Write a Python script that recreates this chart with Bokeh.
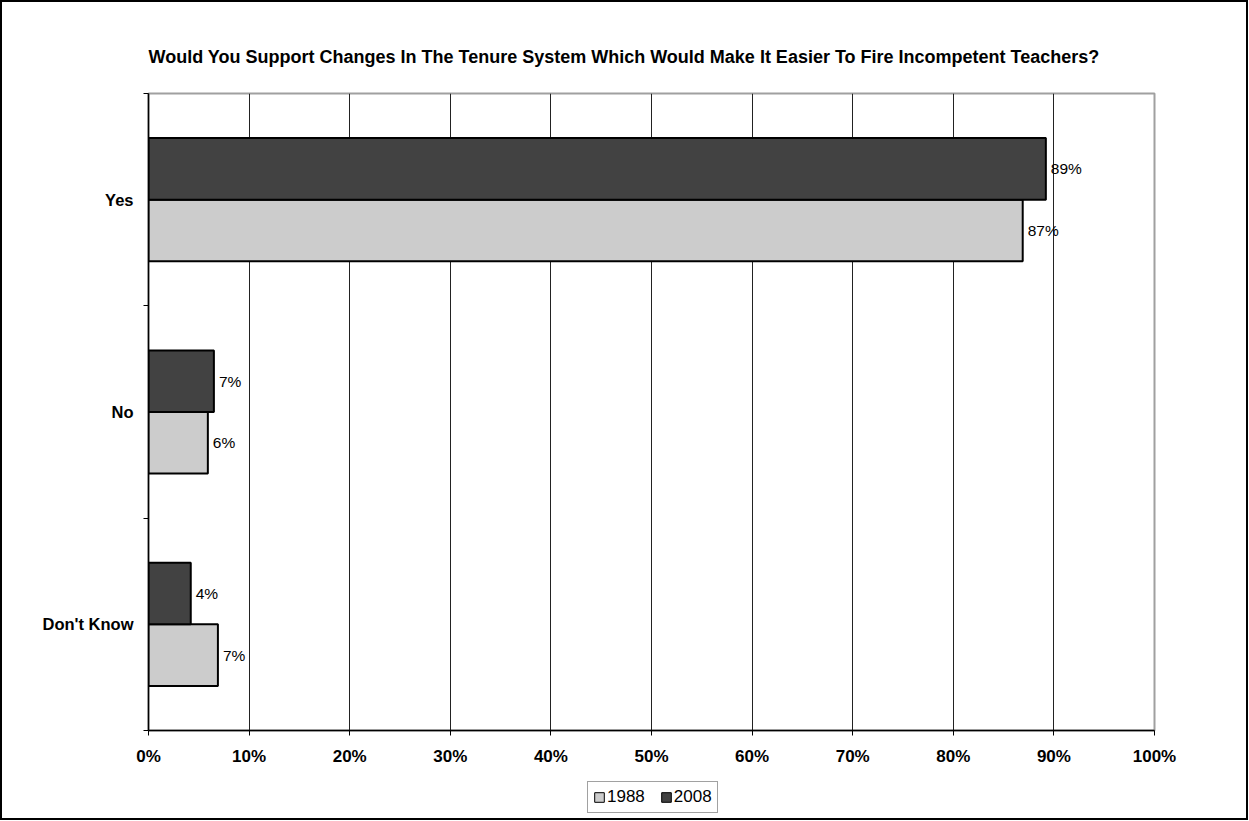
from bokeh.plotting import figure
from bokeh.layouts import column
from bokeh.models import (ColumnDataSource, Range1d, FixedTicker, PrintfTickFormatter,
                          Legend, LegendItem)
from bokeh.core.properties import value
from bokeh.embed import file_html
from bokeh.resources import INLINE

# ---- data ----
title_text = "Would You Support Changes In The Tenure System Which Would Make It Easier To Fire Incompetent Teachers?"
categories = ["Yes", "No", "Don't Know"]
years = ["1988", "2008"]
values_1988 = [86.9, 5.9, 6.9]
values_2008 = [89.2, 6.5, 4.2]
x_ticks = [0, 10, 20, 30, 40, 50, 60, 70, 80, 90, 100]

FONT = "Liberation Sans"
C1988, C2008 = "#cccccc", "#424242"
n = len(categories)
centers = [n - 0.5 - i for i in range(n)]   # top-to-bottom category slots
bar_h = 0.29

def lbl(v):
    return f"{int(v + 0.5)}%"

src_1988 = ColumnDataSource(dict(
    y=[c - bar_h / 2 for c in centers], x=values_1988,
    label=[lbl(v) for v in values_1988]))
src_2008 = ColumnDataSource(dict(
    y=[c + bar_h / 2 for c in centers], x=values_2008,
    label=[lbl(v) for v in values_2008]))

W, H = 1244, 773
p = figure(width=W, height=H, output_backend="svg", toolbar_location=None,
           x_range=Range1d(0, 100), y_range=Range1d(0, n),
           min_border_left=146, min_border_right=W - 1152,
           min_border_top=91, min_border_bottom=H - 728)
p.background_fill_color = "white"
p.border_fill_color = "white"
p.outline_line_color = "#a0a0a0"
p.outline_line_width = 2

# title
p.title.text = title_text
p.title.text_font = FONT
p.title.text_font_size = "18px"
p.title.text_font_style = "bold"
p.title.text_color = "black"
p.title.align = "left"
p.title.standoff = 53

# bars
r1988 = p.hbar(y="y", right="x", left=0, height=bar_h, source=src_1988,
               fill_color=C1988, line_color="black", line_width=2)
r2008 = p.hbar(y="y", right="x", left=0, height=bar_h, source=src_2008,
               fill_color=C2008, line_color="black", line_width=2)

# value labels
for s in (src_1988, src_2008):
    p.text(x="x", y="y", text="label", source=s, x_offset=5,
           text_baseline="middle", text_align="left",
           text_font_size="15.5px", text_color="black", text_font=value(FONT))

# x axis
xa = p.xaxis[0]
xa.ticker = FixedTicker(ticks=x_ticks)
xa.formatter = PrintfTickFormatter(format="%d%%")
xa.major_label_text_font = FONT
xa.major_label_text_font_size = "17px"
xa.major_label_text_font_style = "bold"
xa.major_label_text_color = "black"
xa.major_label_standoff = 11
xa.major_tick_out = 5
xa.major_tick_in = 0
xa.major_tick_line_color = "black"
xa.minor_tick_line_color = None
xa.axis_line_color = "black"
xa.axis_line_width = 1.5

# y axis
ya = p.yaxis[0]
ya.ticker = FixedTicker(ticks=centers, minor_ticks=list(range(n + 1)))
ya.major_label_overrides = {c: cat for c, cat in zip(centers, categories)}
ya.major_label_text_font = FONT
ya.major_label_text_font_size = "16.5px"
ya.major_label_text_font_style = "bold"
ya.major_label_text_color = "black"
ya.major_label_standoff = 10
ya.major_tick_out = 0
ya.major_tick_in = 0
ya.minor_tick_out = 5
ya.minor_tick_in = 0
ya.minor_tick_line_color = "black"
ya.axis_line_color = "black"
ya.axis_line_width = 1.5

# grid
p.ygrid.grid_line_color = None
p.xgrid.ticker = FixedTicker(ticks=x_ticks[1:-1])
p.xgrid.grid_line_color = "#222222"
p.xgrid.grid_line_width = 1

# legend strip (separate small figure below the chart; its keys are
# stand-in renderers kept outside the strip's visible range)
H2 = 43
p2 = figure(width=W, height=H2, output_backend="svg", toolbar_location=None,
            x_range=Range1d(0, 1), y_range=Range1d(0, 1),
            x_axis_type=None, y_axis_type=None, min_border=0)
p2.outline_line_color = None
p2.background_fill_color = "white"
p2.border_fill_color = "white"
p2.grid.grid_line_color = None
key_src = dict(y=[-5], right=[0])
l1988 = p2.hbar(y="y", right="right", left=0, height=0.1, source=ColumnDataSource(key_src),
                fill_color=C1988, line_color="black", line_width=1)
l2008 = p2.hbar(y="y", right="right", left=0, height=0.1, source=ColumnDataSource(key_src),
                fill_color=C2008, line_color="black", line_width=1)
legend = Legend(items=[LegendItem(label=years[0], renderers=[l1988]),
                       LegendItem(label=years[1], renderers=[l2008])],
                orientation="horizontal", location=(439, 5),
                glyph_width=12, glyph_height=12, label_standoff=2,
                label_text_font=FONT, label_text_font_size="17px",
                label_text_color="black",
                label_height=19, padding=5, spacing=15, margin=0,
                border_line_color="#444444", border_line_width=1,
                background_fill_color="white", background_fill_alpha=1)
p2.add_layout(legend, "center")

layout = column(p, p2, spacing=0)
layout.styles = {"border": "2px solid black"}

open("out.html", "w").write(file_html(layout, INLINE))
